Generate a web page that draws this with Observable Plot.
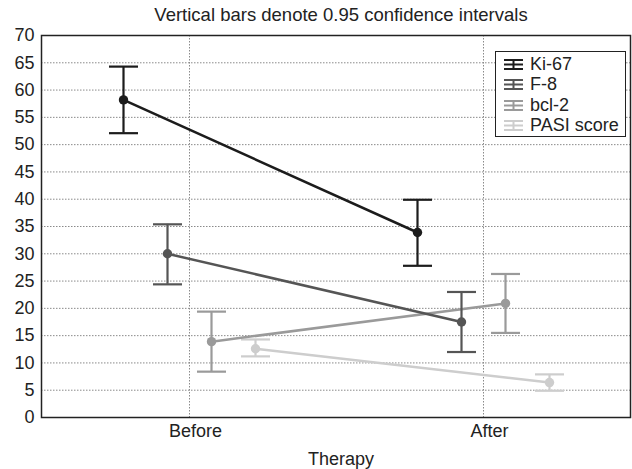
<!DOCTYPE html>
<html><head><meta charset="utf-8">
<script src="https://cdn.jsdelivr.net/npm/d3@7"></script>
<script src="https://cdn.jsdelivr.net/npm/@observablehq/plot@0.6"></script>
<style>
body{margin:0;background:#fff;font-family:"Liberation Sans",Arial,sans-serif;}
#wrap{position:relative;width:632px;height:469px;}
#legend{position:absolute;left:495px;top:51px;width:131px;height:86px;border:1px solid #222;background:#fff;font-size:18px;color:#222;box-sizing:border-box;}
.item{position:absolute;left:8px;height:20px;display:flex;align-items:center;white-space:nowrap;}
.item svg{margin-right:7px;}
</style></head><body><div id="wrap"></div>
<script>
const title = "Vertical bars denote 0.95 confidence intervals";
const xLabel = "Therapy";
const categories = ["Before", "After"];
const series = ["Ki-67", "F-8", "bcl-2", "PASI score"];
const colors = ["#1c1c1c", "#555555", "#9a9a9a", "#cdcdcd"];
const yTicks = [0, 5, 10, 15, 20, 25, 30, 35, 40, 45, 50, 55, 60, 65, 70];

const ki67Mean = [58.2, 33.9];
const ki67Low = [52.1, 27.8];
const ki67High = [64.3, 39.9];
const f8Mean = [30.0, 17.5];
const f8Low = [24.4, 12.0];
const f8High = [35.4, 23.0];
const bcl2Mean = [13.9, 20.9];
const bcl2Low = [8.4, 15.5];
const bcl2High = [19.4, 26.3];
const pasiMean = [12.6, 6.4];
const pasiLow = [11.2, 4.9];
const pasiHigh = [14.3, 7.9];

const means = [ki67Mean, f8Mean, bcl2Mean, pasiMean];
const lows = [ki67Low, f8Low, bcl2Low, pasiLow];
const highs = [ki67High, f8High, bcl2High, pasiHigh];

const capSymbol = {
  draw(ctx, size) {
    const w = Math.sqrt(size / Math.PI);
    ctx.moveTo(-w, 0);
    ctx.lineTo(w, 0);
  }
};

const marksBySeries = series.map((name, i) => {
  const rows = categories.map((c, j) => ({x: c, mean: means[i][j], lo: lows[i][j], hi: highs[i][j]}));
  const dx = (i - 1.5) * 44;
  const color = colors[i];
  return [
    Plot.line(rows, {x: "x", y: "mean", stroke: color, strokeWidth: 2.5, dx}),
    Plot.ruleX(rows, {x: "x", y1: "lo", y2: "hi", stroke: color, strokeWidth: 2.2, dx}),
    Plot.dot(rows, {x: "x", y: "hi", symbol: capSymbol, r: 14.5, stroke: color, fill: "none", strokeWidth: 2.2, dx}),
    Plot.dot(rows, {x: "x", y: "lo", symbol: capSymbol, r: 14.5, stroke: color, fill: "none", strokeWidth: 2.2, dx}),
    Plot.dot(rows, {x: "x", y: "mean", r: 4.7, fill: color, stroke: "none", dx})
  ];
});

const chart = Plot.plot({
  width: 632,
  height: 469,
  marginTop: 35,
  marginBottom: 52,
  marginLeft: 41,
  marginRight: 2,
  style: {fontFamily: "'Liberation Sans', Arial, sans-serif", fontSize: "18px", color: "#222", background: "#fff"},
  x: {type: "point", domain: categories, padding: 0.5},
  y: {domain: [0, 70]},
  marks: [
    Plot.gridY(yTicks.filter(v => v > 0 && v < 70), {stroke: "#8a8a8a", strokeOpacity: 1, strokeDasharray: "1.5,1.5"}),
    Plot.gridX(categories, {stroke: "#8a8a8a", strokeOpacity: 1, strokeDasharray: "1.5,1.5"}),
    Plot.axisY(yTicks, {tickSize: 0, tickPadding: 7, fontSize: 18, fill: "#222", label: null}),
    Plot.axisX(categories, {tickSize: 0, tickPadding: 7, dx: 6, fontSize: 18, fill: "#222", label: null}),
    Plot.text([title], {frameAnchor: "top", text: d => d, lineAnchor: "bottom", dy: -15, dx: 5, fontSize: 18.5, fill: "#222"}),
    Plot.text([xLabel], {frameAnchor: "bottom", text: d => d, lineAnchor: "bottom", dy: 47, dx: 5, fontSize: 18, fill: "#222"}),
    ...[3, 2, 1, 0].flatMap(i => marksBySeries[i]),
    Plot.frame({stroke: "#222", strokeWidth: 1.5})
  ]
});

const wrap = document.getElementById("wrap");
wrap.appendChild(chart);

const legend = document.createElement("div");
legend.id = "legend";
series.forEach((name, i) => {
  const item = document.createElement("div");
  item.className = "item";
  item.style.top = (2 + i * 20.5) + "px";
  const c = colors[i];
  item.innerHTML = `<svg width="19" height="13"><g stroke="${c}" stroke-width="2"><line x1="0" x2="19" y1="2" y2="2"/><line x1="0" x2="19" y1="6.5" y2="6.5"/><line x1="0" x2="19" y1="11" y2="11"/><line x1="9.5" x2="9.5" y1="2" y2="11"/></g></svg><span>${name}</span>`;
  legend.appendChild(item);
});
wrap.appendChild(legend);
</script>
</body></html>
